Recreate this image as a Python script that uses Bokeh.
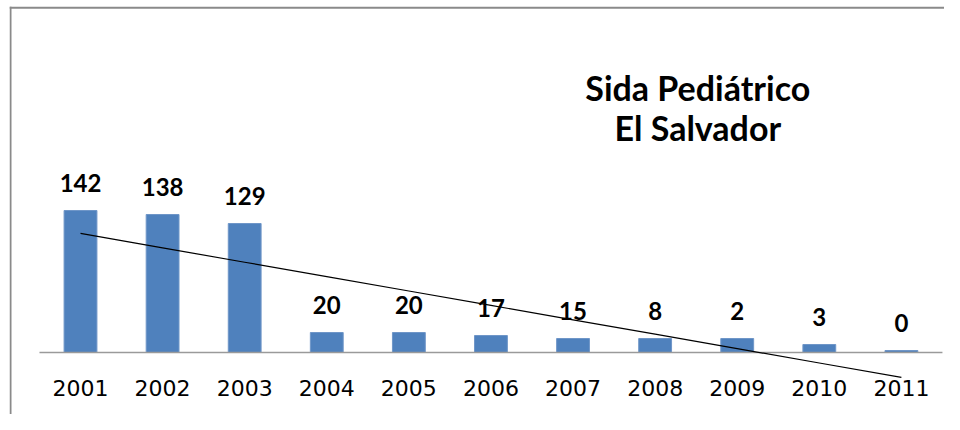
import numpy as np
from bokeh.plotting import figure
from bokeh.models import Range1d, Label, BoxAnnotation
from bokeh.core.properties import value
from bokeh.embed import file_html
from bokeh.resources import INLINE

# ---- data ----
years = ["2001", "2002", "2003", "2004", "2005", "2006",
         "2007", "2008", "2009", "2010", "2011"]
bar_values = [142, 138, 129, 20, 20, 17, 14, 14, 14, 8, 2]
data_labels = ["142", "138", "129", "20", "20", "17", "15", "8", "2", "3", "0"]
title_lines = ["Sida Pediátrico", "El Salvador"]

xs = [int(y) for y in years]

# linear trend line (least squares fit of the bar values)
idx = np.arange(1, len(years) + 1)
slope, intercept = np.polyfit(idx, np.array(bar_values, dtype=float), 1)
trend = slope * idx + intercept

BAR_COLOR = "#4F81BD"
BORDER_COLOR = "#8a8a8a"
Y_START, Y_END = -62, 346

p = figure(
    width=944, height=414,
    x_range=Range1d(2000.135, 2011.525),
    y_range=Range1d(Y_START, Y_END),
    output_backend="svg", toolbar_location=None,
    x_axis_location=None, y_axis_location=None,
    min_border_left=9, min_border_right=0,
    min_border_top=6, min_border_bottom=0,
    outline_line_color=None,
    background_fill_color="white", border_fill_color="white",
)
p.grid.visible = False

# chart-area border (top and left edges)
p.add_layout(BoxAnnotation(bottom=Y_END - 2.2, top=Y_END,
                           fill_color=BORDER_COLOR, fill_alpha=1,
                           line_color=None, level="overlay"))
p.add_layout(BoxAnnotation(left=0, right=2, left_units="screen",
                           right_units="screen",
                           fill_color=BORDER_COLOR, fill_alpha=1,
                           line_color=None, level="overlay"))

p.vbar(x=xs, top=bar_values, bottom=0, width=0.4,
       fill_color=BAR_COLOR, line_color="#6f96c8", line_width=1)

# category axis line
p.segment(x0=xs[0] - 0.5, x1=xs[-1] + 0.5, y0=0, y1=0,
          line_color="#9a9a9a", line_width=1.5)

# trend line
p.line(x=xs, y=trend, line_color="black", line_width=1.2)

# data labels
p.text(x=xs, y=bar_values, text=data_labels, y_offset=-28,
       text_align="center", text_baseline="middle",
       text_font=value("Lato"), text_font_style="bold",
       text_font_size="24px", text_color="black")

# category labels
p.text(x=xs, y=0, text=years, y_offset=35,
       text_align="center", text_baseline="middle",
       text_font=value("DejaVu Sans"), text_font_size="22px",
       text_color="#000000")

# title
for txt, yy in zip(title_lines, [265, 225]):
    p.add_layout(Label(x=2008.52, y=yy, text=txt, text_align="center",
                       text_baseline="middle", text_font="Lato",
                       text_font_style="bold", text_font_size="34px",
                       text_color="black"))

open("out.html", "w").write(file_html(p, INLINE))
